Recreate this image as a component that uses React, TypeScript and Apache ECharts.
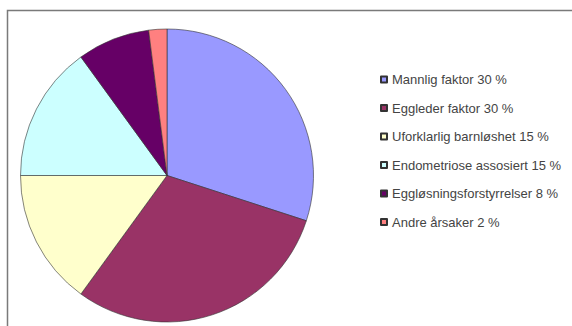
import React, { useEffect, useRef } from "react";
import * as echarts from "echarts";

const categories = [
  "Mannlig faktor 30 %",
  "Eggleder faktor 30 %",
  "Uforklarlig barnløshet 15 %",
  "Endometriose assosiert 15 %",
  "Eggløsningsforstyrrelser 8 %",
  "Andre årsaker 2 %",
];
const values = [30, 30, 15, 15, 8, 2];
const colors = ["#9999FF", "#993366", "#FFFFCC", "#CCFFFF", "#660066", "#FF8080"];

export default function App() {
  const ref = useRef<HTMLDivElement>(null);
  useEffect(() => {
    if (!ref.current) return;
    const chart = echarts.init(ref.current, undefined, { renderer: "svg" });
    chart.setOption({
      animation: false,
      backgroundColor: "#ffffff",
      graphic: [
        {
          type: "rect",
          shape: { x: 7.5, y: 10.5, width: 600, height: 400 },
          style: { fill: "none", stroke: "#7a7a7a", lineWidth: 1.5 },
          z: 0,
        },
      ],
      legend: {
        orient: "vertical",
        left: 375,
        top: 68,
        itemWidth: 6,
        itemHeight: 6,
        itemGap: 15.5,
        icon: "rect",
        textStyle: { fontFamily: "Liberation Sans", fontSize: 13, color: "#444" },
        data: categories,
      },
      series: [
        {
          type: "pie",
          center: [167, 175.5],
          radius: 146.5,
          startAngle: 90,
          clockwise: true,
          label: { show: false },
          labelLine: { show: false },
          emphasis: { disabled: true },
          itemStyle: { borderColor: "#333", borderWidth: 0.6 },
          data: categories.map((name, i) => ({
            name,
            value: values[i],
            itemStyle: { color: colors[i] },
          })),
        },
      ],
    });
    return () => chart.dispose();
  }, []);
  return (
    <div
      ref={ref}
      style={{ position: "fixed", left: 0, top: 0, width: 572, height: 326 }}
    />
  );
}
